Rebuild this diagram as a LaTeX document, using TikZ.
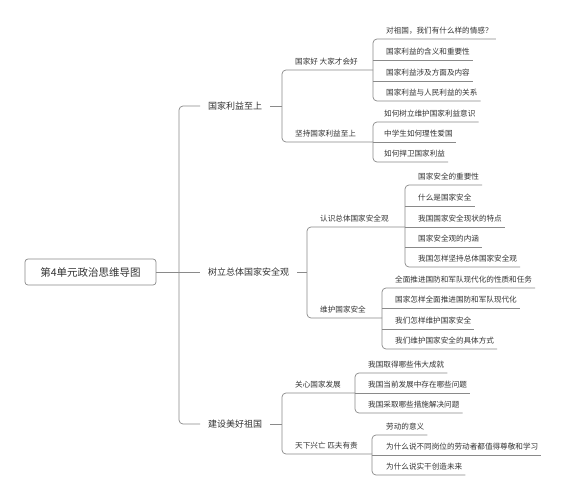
\documentclass[tikz,border=0pt]{standalone}
\usepackage{fontspec}
\setmainfont{Noto Sans CJK SC}
\definecolor{linegray}{HTML}{8A8A8A}
\definecolor{textgray}{HTML}{333333}
\begin{document}
\begin{tikzpicture}[x=1pt,y=-1pt,
  link/.style={draw=linegray, line width=0.7pt, rounded corners=4pt},
  leaf/.style={anchor=south west, inner xsep=3pt, inner ysep=5pt, text depth=0pt, font=\fontsize{7.6}{9}\selectfont, text=textgray},
  topic/.style={anchor=west, inner xsep=8pt, inner ysep=2pt, font=\fontsize{9}{11}\selectfont, text=textgray},
  rootbox/.style={draw=linegray, line width=0.7pt, rounded corners=3pt, minimum width=131pt, minimum height=26pt, font=\fontsize{10.5}{12}\selectfont, text=textgray}]
\useasboundingbox[fill=white] (0,0) rectangle (567,500);

% root and level 1
\node[rootbox] (root) at (90.5,272) {第4单元政治思维导图};
\node[topic] (t1) at (200,106) {国家利益至上};
\node[topic] (t2) at (200,272) {树立总体国家安全观};
\node[topic] (t3) at (200,424) {建设美好祖国};
\coordinate (b0) at (179,272);
\draw[link] (t1.west) -- (t1.west -| b0) -- (t3.west -| b0) -- (t3.west);
\draw[link] (root.east) -- (t2.west);

% level 2
\coordinate (b1) at (282,106);
\coordinate (b2) at (307,272);
\coordinate (b3) at (282,424);
\draw[link] (t1.east) -- (b1);
\draw[link] (t2.east) -- (b2);
\draw[link] (t3.east) -- (b3);

\node[leaf] (s1) at (292,70) {国家好 大家才会好};
\node[leaf] (s2) at (292,142) {坚持国家利益至上};
\node[leaf] (s3) at (317,227) {认识总体国家安全观};
\node[leaf] (s4) at (317,318) {维护国家安全};
\node[leaf] (s5) at (292,393) {关心国家发展};
\node[leaf] (s6) at (292,454) {天下兴亡 匹夫有责};

\coordinate (c1) at (373,70);
\coordinate (c2) at (373,142);
\coordinate (c3) at (405,227);
\coordinate (c4) at (382,318);
\coordinate (c5) at (355,393);
\coordinate (c6) at (372,454);

\draw[link] (c1) -- (s1.south -| b1) -- (s2.south -| b1) -- (c2);
\draw[link] (c3) -- (s3.south -| b2) -- (s4.south -| b2) -- (c4);
\draw[link] (c5) -- (s5.south -| b3) -- (s6.south -| b3) -- (c6);

% level 3 under c1
\node[leaf] (a1) at (383,39) {对祖国，我们有什么样的情感？};
\node[leaf] (a2) at (383,60) {国家利益的含义和重要性};
\node[leaf] (a3) at (383,81) {国家利益涉及方面及内容};
\node[leaf] (a4) at (383,101) {国家利益与人民利益的关系};
\draw[link] (a1.south east) -- (a1.south -| c1) -- (a4.south -| c1) -- (a4.south east);
\draw[link] (a2.south -| c1) -- (a2.south east);
\draw[link] (a3.south -| c1) -- (a3.south east);

% level 3 under c2
\node[leaf] (d1) at (381,122) {如何树立维护国家利益意识};
\node[leaf] (d2) at (381,142) {中学生如何理性爱国};
\node[leaf] (d3) at (381,162) {如何捍卫国家利益};
\draw[link] (d1.south east) -- (d1.south -| c2) -- (d3.south -| c2) -- (d3.south east);
\draw[link] (d2.south -| c2) -- (d2.south east);

% level 3 under c3
\node[leaf] (e1) at (415,185) {国家安全的重要性};
\node[leaf] (e2) at (415,206) {什么是国家安全};
\node[leaf] (e3) at (415,227) {我国国家安全现状的特点};
\node[leaf] (e4) at (415,247) {国家安全观的内涵};
\node[leaf] (e5) at (415,267) {我国怎样坚持总体国家安全观};
\draw[link] (e1.south east) -- (e1.south -| c3) -- (e5.south -| c3) -- (e5.south east);
\draw[link] (e2.south -| c3) -- (e2.south east);
\draw[link] (e3.south -| c3) -- (e3.south east);
\draw[link] (e4.south -| c3) -- (e4.south east);

% level 3 under c4
\node[leaf] (f1) at (392,288) {全面推进国防和军队现代化的性质和任务};
\node[leaf] (f2) at (392,308) {国家怎样全面推进国防和军队现代化};
\node[leaf] (f3) at (392,329) {我们怎样维护国家安全};
\node[leaf] (f4) at (392,349) {我们维护国家安全的具体方式};
\draw[link] (f1.south east) -- (f1.south -| c4) -- (f4.south -| c4) -- (f4.south east);
\draw[link] (f2.south -| c4) -- (f2.south east);
\draw[link] (f3.south -| c4) -- (f3.south east);

% level 3 under c5
\node[leaf] (g1) at (365,373) {我国取得哪些伟大成就};
\node[leaf] (g2) at (365,393) {我国当前发展中存在哪些问题};
\node[leaf] (g3) at (365,413) {我国采取哪些措施解决问题};
\draw[link] (g1.south east) -- (g1.south -| c5) -- (g3.south -| c5) -- (g3.south east);
\draw[link] (g2.south -| c5) -- (g2.south east);

% level 3 under c6
\node[leaf] (h1) at (383,435) {劳动的意义};
\node[leaf] (h2) at (383,455) {为什么说不同岗位的劳动者都值得尊敬和学习};
\node[leaf] (h3) at (383,475) {为什么说实干创造未来};
\draw[link] (h1.south east) -- (h1.south -| c6) -- (h3.south -| c6) -- (h3.south east);
\draw[link] (h2.south -| c6) -- (h2.south east);
\end{tikzpicture}
\end{document}
